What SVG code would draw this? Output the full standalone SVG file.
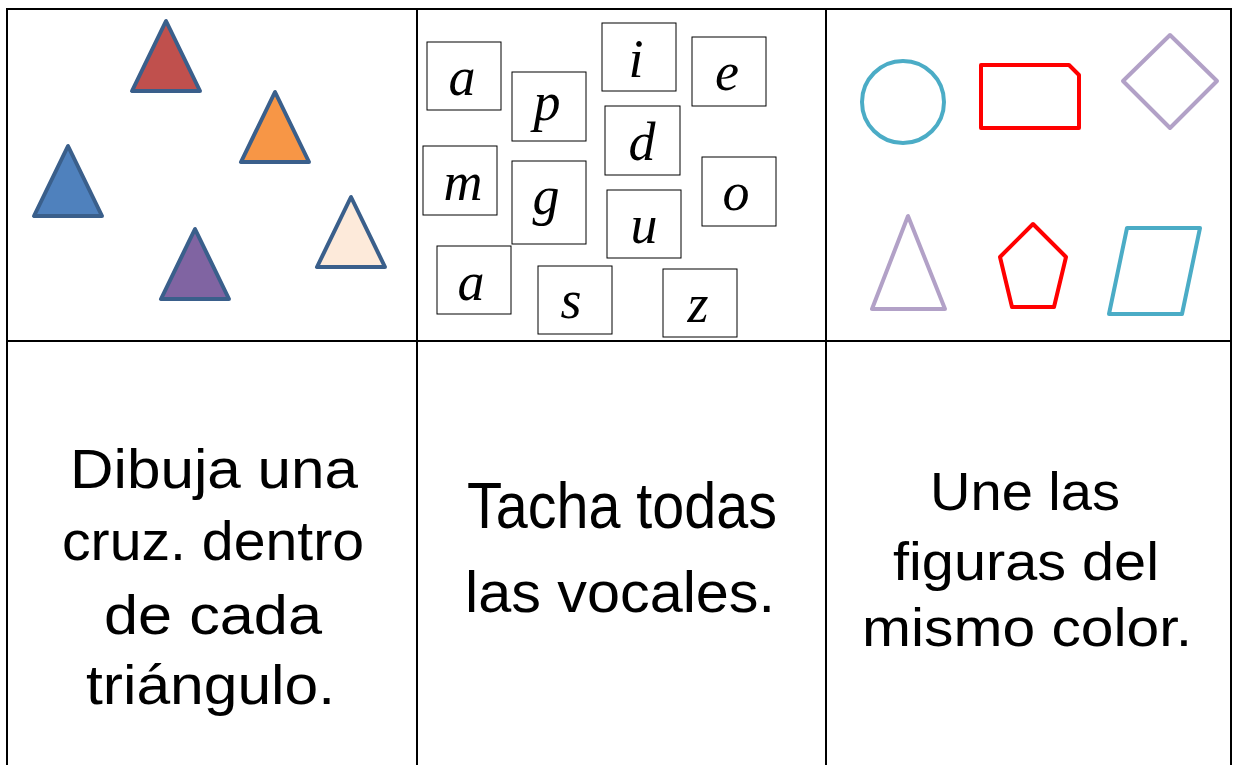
<svg xmlns="http://www.w3.org/2000/svg" width="1233" height="765" viewBox="0 0 1233 765">
<style>
.grid{stroke:#000;stroke-width:2;fill:none}
.tri{stroke:#3A5F8B;stroke-width:4;stroke-linejoin:round}
.box{fill:#fff;stroke:#000;stroke-width:1}
.let{font-family:"Liberation Serif",serif;font-style:italic;font-size:54px;text-anchor:middle;fill:#000}
.shp{fill:none;stroke-width:4;stroke-linejoin:round}
.txt{font-family:"Liberation Sans",Arial,sans-serif;fill:#000;text-anchor:start}
</style>
<rect width="1233" height="765" fill="#fff"/>
<g id="grid">
<line class="grid" x1="7" y1="9" x2="1232" y2="9"/>
<line class="grid" x1="7" y1="341" x2="1232" y2="341"/>
<line class="grid" x1="7" y1="8" x2="7" y2="765"/>
<line class="grid" x1="417" y1="8" x2="417" y2="765"/>
<line class="grid" x1="826" y1="8" x2="826" y2="765"/>
<line class="grid" x1="1231" y1="8" x2="1231" y2="765"/>
</g>
<g id="triangles">
<polygon class="tri" fill="#C0504D" points="166,21 132,91 200,91"/>
<polygon class="tri" fill="#F79646" points="275,92 241,162 309,162"/>
<polygon class="tri" fill="#4F81BD" points="68,146 34,216 102,216"/>
<polygon class="tri" fill="#8064A2" points="195,229 161,299 229,299"/>
<polygon class="tri" fill="#FDEADA" points="351,197 317,267 385,267"/>
</g>
<g id="letters">
<g><rect class="box" x="427" y="42" width="74" height="68"/><text class="let" x="462" y="95">a</text></g>
<g><rect class="box" x="512" y="72" width="74" height="69"/><text class="let" x="547" y="120">p</text></g>
<g><rect class="box" x="602" y="23" width="74" height="68"/><text class="let" x="636" y="77">i</text></g>
<g><rect class="box" x="692" y="37" width="74" height="69"/><text class="let" x="727" y="90">e</text></g>
<g><rect class="box" x="605" y="106" width="75" height="69"/><text class="let" x="642" y="160">d</text></g>
<g><rect class="box" x="423" y="146" width="74" height="69"/><text class="let" x="463" y="200">m</text></g>
<g><rect class="box" x="512" y="161" width="74" height="83"/><text class="let" x="546" y="214">g</text></g>
<g><rect class="box" x="702" y="157" width="74" height="69"/><text class="let" x="736" y="210">o</text></g>
<g><rect class="box" x="607" y="190" width="74" height="68"/><text class="let" x="644" y="243">u</text></g>
<g><rect class="box" x="437" y="246" width="74" height="68"/><text class="let" x="471" y="300">a</text></g>
<g><rect class="box" x="538" y="266" width="74" height="68"/><text class="let" x="571" y="318">s</text></g>
<g><rect class="box" x="663" y="269" width="74" height="68"/><text class="let" x="698" y="322">z</text></g>
</g>
<g id="figures">
<circle class="shp" stroke="#4BACC6" cx="903" cy="102" r="41"/>
<polygon class="shp" stroke="#FF0000" points="981,65 1069,65 1079,75 1079,128 981,128"/>
<polygon class="shp" stroke="#B2A1C7" points="1170,35 1217,81 1170,128 1123,81"/>
<polygon class="shp" stroke="#B2A1C7" points="908,216 872,309 945,309"/>
<polygon class="shp" stroke="#FF0000" points="1033,224 1066,257 1054,307 1012,307 1000,257"/>
<polygon class="shp" stroke="#4BACC6" points="1127,228 1200,228 1182,314 1109,314"/>
</g>
<g id="instr1">
<text class="txt" x="70" y="488" font-size="56" textLength="288" lengthAdjust="spacingAndGlyphs">Dibuja una</text>
<text class="txt" x="62" y="560" font-size="56" textLength="302" lengthAdjust="spacingAndGlyphs">cruz. dentro</text>
<text class="txt" x="104" y="634" font-size="56" textLength="218" lengthAdjust="spacingAndGlyphs">de cada</text>
<text class="txt" x="86" y="704" font-size="56" textLength="249" lengthAdjust="spacingAndGlyphs">triángulo.</text>
</g>
<g id="instr2">
<text class="txt" x="467" y="528" font-size="64" textLength="310" lengthAdjust="spacingAndGlyphs">Tacha todas</text>
<text class="txt" x="465" y="612" font-size="58" textLength="310" lengthAdjust="spacingAndGlyphs">las vocales.</text>
</g>
<g id="instr3">
<text class="txt" x="930" y="510" font-size="54" textLength="190" lengthAdjust="spacingAndGlyphs">Une las</text>
<text class="txt" x="893" y="580" font-size="54" textLength="266" lengthAdjust="spacingAndGlyphs">figuras del</text>
<text class="txt" x="862" y="646" font-size="54" textLength="330" lengthAdjust="spacingAndGlyphs">mismo color.</text>
</g>
</svg>
